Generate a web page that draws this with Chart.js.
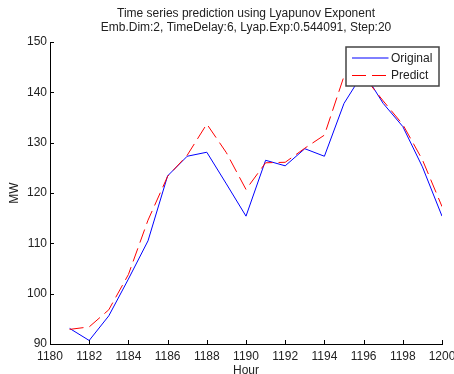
<!DOCTYPE html>
<html>
<head>
<meta charset="utf-8">
<script src="https://cdn.jsdelivr.net/npm/chart.js@4"></script>
<style>
  html, body { margin: 0; padding: 0; background: #fff; }
  #wrap { width: 454px; height: 374px; }
</style>
</head>
<body>
<div id="wrap"><canvas id="myChart"></canvas></div>
<script>
var hours = [1181, 1182, 1183, 1184, 1185, 1186, 1187, 1188, 1189, 1190,
             1191, 1192, 1193, 1194, 1195, 1196, 1197, 1198, 1199, 1200];
var original = [93.1, 90.7, 95.6, 102.9, 110.5, 123.4, 127.3, 128.1, 121.8, 115.4,
                126.5, 125.4, 128.8, 127.3, 137.8, 144.0, 137.8, 133.2, 125.2, 115.4];
var predict = [92.9, 93.4, 96.8, 103.8, 114.6, 123.3, 127.5, 133.7, 128.0, 120.7,
               126.0, 126.1, 128.9, 131.5, 143.2, 143.2, 138.3, 133.6, 126.6, 117.3];
var titleLines = ['Time series prediction using Lyapunov Exponent',
                  'Emb.Dim:2, TimeDelay:6, Lyap.Exp:0.544091, Step:20'];

var FONT = "'Liberation Sans', Arial, sans-serif";
var TXT = '#222';

function pts(ys) {
    return hours.map(function (h, i) { return {x: h, y: ys[i]}; });
}

// title centred over the axes, like matlab does
var axesTitle = {
    id: 'axesTitle',
    afterDraw: function (chart) {
        var ctx = chart.ctx, a = chart.chartArea;
        var cx = (a.left + a.right) / 2;
        ctx.save();
        ctx.fillStyle = TXT;
        ctx.font = '12px ' + FONT;
        ctx.textAlign = 'center';
        ctx.textBaseline = 'middle';
        titleLines.forEach(function (t, i) {
            ctx.fillText(t, cx, 14 + i * 14);
        });
        ctx.restore();
    }
};

// MATLAB style ticks pointing into the plot
var innerTicks = {
    id: 'innerTicks',
    afterDatasetsDraw: function (chart) {
        var ctx = chart.ctx, xs = chart.scales.x, ys = chart.scales.y;
        var a = chart.chartArea;
        ctx.save();
        ctx.strokeStyle = '#000';
        ctx.lineWidth = 1;
        ctx.beginPath();
        xs.ticks.forEach(function (t) {
            var px = Math.round(xs.getPixelForValue(t.value)) + 0.5;
            ctx.moveTo(px, a.bottom);
            ctx.lineTo(px, a.bottom - 4);
        });
        ys.ticks.forEach(function (t) {
            var py = Math.round(ys.getPixelForValue(t.value)) + 0.5;
            ctx.moveTo(a.left, py);
            ctx.lineTo(a.left + 4, py);
        });
        ctx.stroke();
        ctx.restore();
    }
};

// legend box inside the axes, top right
var boxLegend = {
    id: 'boxLegend',
    afterDraw: function (chart) {
        var ctx = chart.ctx;
        var x0 = 346, y0 = 47, w = 93, h = 39;
        ctx.save();
        ctx.fillStyle = '#fff';
        ctx.fillRect(x0, y0, w, h);
        ctx.strokeStyle = '#444';
        ctx.lineWidth = 1.5;
        ctx.strokeRect(x0, y0, w, h);
        chart.data.datasets.forEach(function (ds, i) {
            var y = y0 + 11 + i * 17.5;
            ctx.strokeStyle = ds.borderColor;
            ctx.lineWidth = 1;
            ctx.setLineDash(ds.borderDash || []);
            ctx.beginPath();
            ctx.moveTo(352, y);
            ctx.lineTo(388.5, y);
            ctx.stroke();
            ctx.setLineDash([]);
            ctx.fillStyle = TXT;
            ctx.font = '12px ' + FONT;
            ctx.textBaseline = 'middle';
            ctx.fillText(ds.label, 391, y + 0.5);
        });
        ctx.restore();
    }
};

var ctx = document.getElementById('myChart').getContext('2d');
var chart = new Chart(ctx, {
    type: 'line',
    data: {
        datasets: [{
            label: 'Original',
            data: pts(original),
            borderColor: '#0000ff',
            borderWidth: 1,
            pointRadius: 0,
            tension: 0,
            fill: false,
            order: 1
        }, {
            label: 'Predict',
            data: pts(predict),
            borderColor: '#ff0000',
            borderWidth: 1,
            borderDash: [14, 6],
            pointRadius: 0,
            tension: 0,
            fill: false,
            order: 0
        }]
    },
    options: {
        responsive: true,
        maintainAspectRatio: false,
        animation: false,
        layout: { padding: { left: 0, right: 12, top: 42, bottom: 0 } },
        plugins: {
            legend: { display: false },
            tooltip: { enabled: false },
            title: { display: false }
        },
        scales: {
            x: {
                type: 'linear',
                min: 1180,
                max: 1200,
                grid: { drawOnChartArea: false, drawTicks: false },
                border: { color: '#000', width: 1 },
                ticks: {
                    stepSize: 2,
                    padding: 5,
                    maxRotation: 0,
                    color: TXT,
                    font: { family: FONT, size: 12 },
                    callback: function (v) { return String(v); }
                },
                title: {
                    display: true,
                    text: 'Hour',
                    color: TXT,
                    font: { family: FONT, size: 12, lineHeight: 1 },
                    padding: { top: 0, bottom: -3 }
                },
                afterFit: function (s) { s.height = 30; s.paddingLeft = 0; s.paddingRight = 0; }
            },
            y: {
                min: 90,
                max: 150,
                grid: { drawOnChartArea: false, drawTicks: false },
                border: { color: '#000', width: 1 },
                ticks: {
                    stepSize: 10,
                    padding: 3,
                    color: TXT,
                    font: { family: FONT, size: 12 }
                },
                title: {
                    display: true,
                    text: 'MW',
                    color: TXT,
                    font: { family: FONT, size: 12, lineHeight: 1.2 },
                    padding: { top: 7, bottom: 0 }
                },
                afterFit: function (s) { s.width = 50; s.paddingTop = 0; s.paddingBottom = 0; }
            }
        }
    },
    plugins: [axesTitle, innerTicks, boxLegend]
});
</script>
</body>
</html>
